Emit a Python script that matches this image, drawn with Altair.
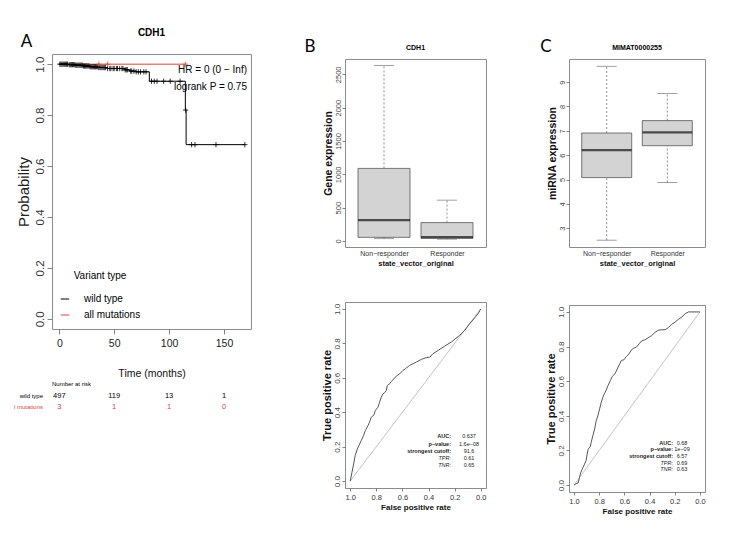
import altair as alt
import pandas as pd

SANS = "Liberation Sans, Arial, sans-serif"
LETTER = "Lato, Liberation Sans, sans-serif"
RED = "#D6453D"
FRAME = "#8c8c8c"
BOXFILL = "#D3D3D3"

# ---------------- Panel A data (Kaplan-Meier) ----------------
km_title = "CDH1"
km_groups = ["wild type", "all mutations"]
wt_time = [0, 8, 15, 22, 28, 36, 44, 60, 64, 70, 82, 114.8, 115.5, 169]
wt_surv = [1.0, 0.998, 0.996, 0.993, 0.990, 0.987, 0.983, 0.978, 0.973, 0.970, 0.933, 0.82, 0.684, 0.684]
mut_time = [0, 114.8]
mut_surv = [1.0, 1.0]
wt_censor = [0.5, 1.5, 2.5, 3.5, 4.5, 5.5, 6.5, 7.5, 9, 10, 11, 12, 13, 14, 15, 16, 17, 18, 19, 20,
             21, 22, 23, 24, 25, 26, 27, 28, 29, 30, 31, 32, 33, 34, 35, 36, 37, 38, 39, 40, 41, 42,
             44, 46, 47, 49, 50, 52, 53, 55, 57, 58, 60, 61, 62, 65, 66, 68, 70, 72, 74, 77, 79,
             84, 86.5, 89, 95, 101, 110, 115.1, 120.5, 123.6, 142.7, 169]
mut_censor = [36, 44, 114.8]
risk_times = [0, 50, 100, 150]
risk_wt = [497, 119, 13, 1]
risk_mut = [3, 1, 1, 0]
risk_rows = ["wild type", "l mutations"]
hr_text = "HR = 0 (0 − Inf)"
logrank_text = "logrank P = 0.75"

# ---------------- Panel B / C box plots ----------------
box_categories = ["Non−responder", "Responder"]
box_pos = [1, 2]
b_title = "CDH1"
b_lower = [35, 28]
b_q1 = [55, 40]
b_median = [312, 58]
b_q3 = [1089, 276]
b_upper = [2631, 613]

c_title = "MIMAT0000255"
c_lower = [2.51, 4.88]
c_q1 = [5.08, 6.39]
c_median = [6.21, 6.94]
c_q3 = [6.91, 7.42]
c_upper = [9.65, 8.53]

# ---------------- ROC curves ----------------
roc_b_x = [1.0, 0.987, 0.974, 0.962, 0.946, 0.934, 0.916, 0.898, 0.885, 0.864, 0.852, 0.839, 0.818,
           0.808, 0.788, 0.775, 0.762, 0.749, 0.737, 0.724, 0.716, 0.698, 0.685, 0.665, 0.647, 0.621,
           0.596, 0.578, 0.545, 0.519, 0.494, 0.455, 0.417, 0.391, 0.366, 0.327, 0.276, 0.225, 0.161,
           0.123, 0.084, 0.046, 0.020, 0.0]
roc_b_y = [0.0, 0.050, 0.099, 0.148, 0.186, 0.206, 0.235, 0.264, 0.293, 0.322, 0.342, 0.371, 0.384,
           0.410, 0.429, 0.458, 0.487, 0.507, 0.513, 0.526, 0.555, 0.565, 0.579, 0.594, 0.610, 0.623,
           0.643, 0.652, 0.672, 0.682, 0.691, 0.707, 0.717, 0.720, 0.740, 0.759, 0.784, 0.808, 0.847,
           0.876, 0.915, 0.948, 0.973, 1.0]
roc_c_x = [1.0, 0.984, 0.968, 0.957, 0.947, 0.936, 0.917, 0.904, 0.896, 0.888, 0.872, 0.864, 0.851,
           0.837, 0.824, 0.811, 0.797, 0.784, 0.771, 0.757, 0.744, 0.731, 0.712, 0.696, 0.677, 0.664,
           0.651, 0.637, 0.624, 0.605, 0.584, 0.563, 0.544, 0.525, 0.504, 0.483, 0.464, 0.437, 0.411,
           0.384, 0.357, 0.331, 0.304, 0.277, 0.251, 0.224, 0.197, 0.171, 0.144, 0.117, 0.091, 0.0]
roc_c_y = [0.0, 0.008, 0.012, 0.043, 0.072, 0.091, 0.120, 0.143, 0.178, 0.207, 0.221, 0.246, 0.284,
           0.323, 0.371, 0.400, 0.439, 0.478, 0.507, 0.530, 0.549, 0.574, 0.603, 0.627, 0.642, 0.658,
           0.681, 0.700, 0.720, 0.723, 0.743, 0.758, 0.781, 0.791, 0.797, 0.816, 0.832, 0.839, 0.851,
           0.863, 0.882, 0.894, 0.897, 0.897, 0.909, 0.929, 0.942, 0.957, 0.971, 0.990, 1.0, 1.0]
diag_x = [1.0, 0.0]
diag_y = [0.0, 1.0]
stat_labels = ["AUC:", "p−value:", "strongest cutoff:", "TPR:", "TNR:"]
stat_italic = [False, False, False, True, True]
stat_b = ["0.637", "1.6e−08", "91.6", "0.61", "0.65"]
stat_c = ["0.68", "1e−09", "6.57", "0.69", "0.63"]


def step_value(times, survs, t):
    v = survs[0]
    for ti, si in zip(times, survs):
        if ti <= t:
            v = si
    return v


def letter(ch, dx, dy):
    return alt.Chart(pd.DataFrame({"t": [ch]})).mark_text(
        x=dx, y=dy, font=LETTER, fontSize=17, align="center", baseline="middle", color="black"
    ).encode(text="t:N")


def note(txt, x, y, align="left", size=9, color="black", weight="normal", style="normal"):
    return alt.Chart(pd.DataFrame({"t": [txt]})).mark_text(
        x=x, y=y, font=SANS, fontSize=size, align=align, baseline="middle", color=color,
        fontWeight=weight, fontStyle=style
    ).encode(text="t:N")


# ---------------- Panel A chart ----------------
A_W, A_H = 199, 275
km_df = pd.DataFrame({
    "time": wt_time + mut_time,
    "surv": wt_surv + mut_surv,
    "group": [km_groups[0]] * len(wt_time) + [km_groups[1]] * len(mut_time),
})
cens_df = pd.DataFrame({
    "time": wt_censor + mut_censor,
    "surv": [step_value(wt_time, wt_surv, t) for t in wt_censor] + [step_value(mut_time, mut_surv, t) for t in mut_censor],
    "group": [km_groups[0]] * len(wt_censor) + [km_groups[1]] * len(mut_censor),
})
risk_df = pd.DataFrame({"time": risk_times, "wt": risk_wt, "mut": risk_mut})

xA = alt.X("time:Q", scale=alt.Scale(domain=[-6.65, 174.6], nice=False, zero=False),
           axis=alt.Axis(values=[0, 50, 100, 150], title="Time (months)", labelFont=SANS,
                         labelFontSize=10.5, labelColor="#222", tickSize=5, labelPadding=4,
                         titleFont=SANS, titleFontSize=10.5, titleFontWeight="normal",
                         titlePadding=20, titleColor="#111"))
yA = alt.Y("surv:Q", scale=alt.Scale(domain=[-0.04, 1.04], nice=False, zero=False),
           axis=alt.Axis(values=[0, 0.2, 0.4, 0.6, 0.8, 1.0], format=".1f", title="Probability",
                         labelAngle=-90, labelAlign="center", labelBaseline="bottom",
                         labelFont=SANS, labelFontSize=11.5, labelColor="#333", tickSize=5,
                         labelPadding=2, titleFont=SANS, titleFontSize=15, titleFontWeight="normal",
                         titlePadding=3, titleColor="#222", labelOverlap=False))
colA = alt.Color("group:N", scale=alt.Scale(domain=km_groups, range=["black", RED]),
                 legend=alt.Legend(title="Variant type", orient="none", legendX=8, legendY=217,
                                   symbolType="stroke", symbolStrokeWidth=1, symbolSize=70,
                                   titleFont=SANS, titleFontSize=10, titleFontWeight="normal",
                                   titleColor="black", labelFont=SANS, labelFontSize=10,
                                   labelColor="black", labelOffset=14, rowPadding=6,
                                   titlePadding=13, titleAnchor="middle", padding=0))

km_lines = alt.Chart(km_df).mark_line(interpolate="step-after", strokeWidth=1).encode(x=xA, y=yA, color=colA)
km_cens = alt.Chart(cens_df).mark_point(shape="M-1,0H1M0,-1V1", size=28, filled=False, strokeWidth=0.8, opacity=1).encode(
    x=xA, y=yA, color=colA)
risk_wt_t = alt.Chart(risk_df).mark_text(font=SANS, fontSize=7.5, color="black", baseline="middle").encode(
    x=xA, y=alt.value(342), text="wt:Q")
risk_mut_t = alt.Chart(risk_df).mark_text(font=SANS, fontSize=7.5, color=RED, baseline="middle").encode(
    x=xA, y=alt.value(353), text="mut:Q")

panelA = alt.layer(
    km_lines, km_cens, risk_wt_t, risk_mut_t,
    note(km_title, A_W / 2, -21, align="center", size=10, weight="bold"),
    note(hr_text, A_W - 4, 15.5, align="right", size=10),
    note(logrank_text, A_W - 4, 33, align="right", size=10),
    note("Number at risk", 0, 330, size=6),
    note(risk_rows[0], -9, 342, align="right", size=6),
    note(risk_rows[1], -9, 353, align="right", size=6, color=RED),
    letter("A", -25.5, -12.5),
).properties(width=A_W, height=A_H)


# ---------------- Box plots ----------------
def boxplot(lower, q1, med, q3, upper, ydomain, yvalues, ytitle, title, lab, ldx, width, boxw):
    df = pd.DataFrame({"pos": box_pos, "lower": lower, "q1": q1, "med": med, "q3": q3, "upper": upper})
    label_expr = "[" + ",".join("'" + c + "'" for c in box_categories) + "][datum.value - 1]"
    x = alt.X("pos:Q", scale=alt.Scale(domain=[0.46, 2.54], nice=False, zero=False),
              axis=alt.Axis(values=box_pos, labelExpr=label_expr, title="state_vector_original",
                            tickSize=0, labelPadding=2, labelFont=SANS, labelFontSize=7,
                            labelColor="#333", titleFont=SANS, titleFontSize=7.5,
                            titleFontWeight="bold", titlePadding=3, titleColor="#111"))
    ysc = alt.Scale(domain=ydomain, nice=False, zero=False)
    yax = alt.Axis(values=yvalues, format="d", title=ytitle, labelAngle=-90, labelAlign="center",
                   labelBaseline="bottom", labelFont=SANS, labelFontSize=7.5,
                   labelColor="#444", tickSize=3, labelPadding=0, titleFont=SANS,
                   titleFontSize=10.5, titleFontWeight="bold", titlePadding=1,
                   titleColor="#111", labelOverlap=False)

    def Y(f):
        return alt.Y(f, scale=ysc, axis=yax)

    base = alt.Chart(df)
    wh_up = base.mark_rule(strokeDash=[2, 2], color="#777", strokeWidth=0.8).encode(x=x, y=Y("q3:Q"), y2="upper:Q")
    wh_lo = base.mark_rule(strokeDash=[2, 2], color="#777", strokeWidth=0.8).encode(x=x, y=Y("lower:Q"), y2="q1:Q")
    st_up = base.mark_tick(orient="horizontal", size=20, thickness=0.8, color="#555").encode(x=x, y=Y("upper:Q"))
    st_lo = base.mark_tick(orient="horizontal", size=20, thickness=0.8, color="#555").encode(x=x, y=Y("lower:Q"))
    box = base.mark_bar(size=boxw, fill=BOXFILL, stroke="#555", strokeWidth=0.8).encode(
        x=x, y=Y("q1:Q"), y2="q3:Q")
    med_t = base.mark_tick(orient="horizontal", size=boxw, thickness=2.2, color="#111").encode(x=x, y=Y("med:Q"))
    return alt.layer(wh_up, wh_lo, st_up, st_lo, box, med_t,
                     note(title, width / 2, -11, align="center", size=7, weight="bold"),
                     letter(lab, ldx, -12)).properties(width=width, height=188)


def roc(xs, ys, stats, width, height, lab_x, val_x, rows_y):
    df = pd.DataFrame({"fpr": xs, "tpr": ys})
    dd = pd.DataFrame({"fpr": diag_x, "tpr": diag_y})
    x = alt.X("fpr:Q", scale=alt.Scale(domain=[-0.04, 1.04], reverse=True, nice=False, zero=False),
              axis=alt.Axis(values=[0, 0.2, 0.4, 0.6, 0.8, 1.0], format=".1f", title="False positive rate",
                            tickSize=3, labelPadding=2, labelFont=SANS, labelFontSize=7.5,
                            labelColor="#333", titleFont=SANS, titleFontSize=8,
                            titleFontWeight="bold", titlePadding=3, titleColor="#111",
                            labelOverlap=False))
    y = alt.Y("tpr:Q", scale=alt.Scale(domain=[-0.04, 1.04], nice=False, zero=False),
              axis=alt.Axis(values=[0, 0.2, 0.4, 0.6, 0.8, 1.0], format=".1f", title="True positive rate",
                            labelAngle=-90, labelAlign="center", labelBaseline="bottom",
                            labelFont=SANS, labelFontSize=8, labelColor="#444", tickSize=3,
                            labelPadding=1, titleFont=SANS, titleFontSize=11,
                            titleFontWeight="bold", titlePadding=1, titleColor="#111",
                            labelOverlap=False))
    layers = [
        alt.Chart(dd).mark_line(color="#aaaaaa", strokeWidth=0.7).encode(x=x, y=y),
        alt.Chart(df).mark_line(color="#555555", strokeWidth=1).encode(x=x, y=y, order="tpr:Q"),
    ]
    for i, (lab_t, it, val) in enumerate(zip(stat_labels, stat_italic, stats)):
        layers.append(note(lab_t, lab_x, rows_y[i], align="right", size=5.5, color="#222",
                           weight="normal" if it else "bold", style="italic" if it else "normal"))
        layers.append(note(val, val_x, rows_y[i], align="center", size=5.5, color="#222"))
    return alt.layer(*layers).properties(width=width, height=height)


boxB = boxplot(b_lower, b_q1, b_median, b_q3, b_upper, [-90, 2730], [0, 500, 1000, 1500, 2000, 2500],
               "Gene expression", b_title, "B", -35, 141, 52)
boxC = boxplot(c_lower, c_q1, c_median, c_q3, c_upper, [2.23, 9.95], [3, 4, 5, 6, 7, 8, 9],
               "miRNA expression", c_title, "C", -23, 136, 50)
rocB = roc(roc_b_x, roc_b_y, stat_b, 141, 186, 106, 124, [134, 142, 149, 156, 163])
rocC = roc(roc_c_x, roc_c_y, stat_c, 136, 187, 104, 113, [138, 144, 151, 158, 164])

colB = alt.vconcat(boxB, rocB, spacing=55, bounds="flush")
colC = alt.vconcat(boxC, rocC, spacing=58, bounds="flush")
spacer = alt.Chart(pd.DataFrame({"v": [0]})).mark_point(opacity=0).encode(
    x=alt.value(0), y=alt.value(0)).properties(width=10, height=1, view=alt.ViewBackground(strokeOpacity=0))
right = alt.vconcat(spacer, alt.hconcat(colB, colC, spacing=224, bounds="flush"), spacing=4, bounds="flush")

chart = alt.hconcat(panelA, right, spacing=94, bounds="flush").properties(
    padding={"left": 13, "top": 27, "right": 5, "bottom": 5}, background="white"
).configure_view(stroke=FRAME, strokeWidth=1, fill=None).configure_axis(
    domain=False, grid=False, tickColor="#666", tickWidth=0.8)

chart.save("out.html", embed_options={"renderer": "svg", "actions": False})
